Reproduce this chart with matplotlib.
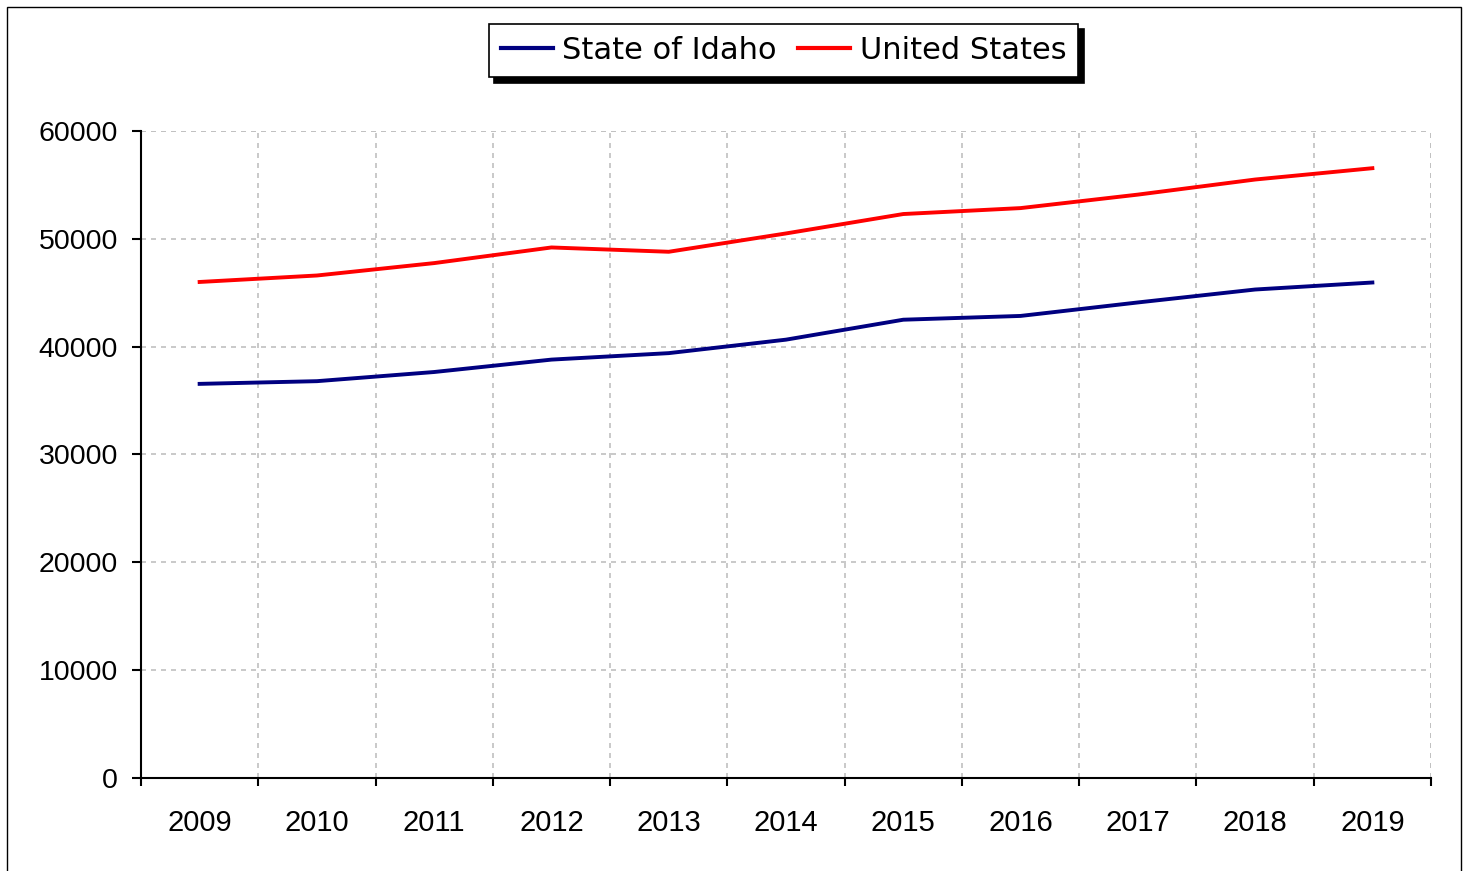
import numpy as np
import matplotlib
matplotlib.use("Agg")
import matplotlib.pyplot as plt
from matplotlib.patches import Rectangle

years = ["2009", "2010", "2011", "2012", "2013", "2014",
         "2015", "2016", "2017", "2018", "2019"]
idaho = [36550, 36800, 37650, 38800, 39400, 40650,
         42500, 42850, 44100, 45300, 45950]
united_states = [46000, 46600, 47750, 49200, 48800, 50500,
                 52300, 52850, 54100, 55500, 56550]

plt.rcParams['font.family'] = ['Liberation Sans', 'DejaVu Sans']

fig = plt.figure(figsize=(14.65, 8.71), dpi=100)
ax = fig.add_axes([141 / 1465, 1 - 778 / 871, (1431 - 141) / 1465, (778 - 131) / 871])

x = np.arange(len(years))
ax.plot(x, idaho, color='#000080', lw=2.8, label='State of Idaho', zorder=3)
ax.plot(x, united_states, color='#FF0000', lw=2.8, label='United States', zorder=3)

ax.set_xlim(-0.5, len(years) - 0.5)
ax.set_ylim(0, 60000)

# category boundaries get the tick marks, labels sit in the middle
ax.set_xticks(np.arange(len(years) + 1) - 0.5)
ax.set_xticklabels([])
ax.set_xticks(x, minor=True)
ax.set_xticklabels(years, minor=True)
ax.tick_params(axis='x', which='major', direction='out', length=6, width=1.5, color='black')
ax.tick_params(axis='x', which='minor', length=0, pad=22, labelsize=21)

ax.set_yticks(np.arange(0, 60001, 10000))
ax.tick_params(axis='y', direction='out', length=6.5, width=1.5, pad=10, labelsize=20.5)

ax.grid(True, which='major', color='#C0C0C0', lw=1.2, linestyle=(0, (3, 3)))
ax.set_axisbelow(True)

for side in ['top', 'right']:
    ax.spines[side].set_visible(False)
for side in ['left', 'bottom']:
    ax.spines[side].set_linewidth(1.5)
    ax.spines[side].set_color('black')
    ax.spines[side].set_zorder(4)

# top and right edges of the plot area are dotted grid lines
ax.axhline(60000, color='#C0C0C0', lw=1.2, linestyle=(0, (3, 3)), zorder=0.5)
ax.axvline(len(years) - 0.5, color='#C0C0C0', lw=1.2, linestyle=(0, (3, 3)), zorder=0.5)

leg = fig.legend(loc='center', bbox_to_anchor=(783.5 / 1465, 1 - 50.5 / 871),
                 ncol=2, frameon=True, fancybox=False, handlelength=1.7,
                 handletextpad=0.3, columnspacing=0.72, borderpad=0.4,
                 prop={'family': 'DejaVu Sans', 'size': 22},
                 shadow={'color': 'black', 'alpha': 1, 'ox': 4, 'oy': -4})
leg.get_frame().set_edgecolor('black')
leg.get_frame().set_linewidth(1.2)
for line in leg.get_lines():
    line.set_linewidth(3)
for t in leg.get_texts():
    t.set_path_effects([])
    t.set_fontweight('normal')

# outer chart border
fig.patches.append(Rectangle((7 / 1465, -0.01), (1461 - 7) / 1465, 1 - 7 / 871 + 0.01,
                             transform=fig.transFigure, fill=False,
                             edgecolor='black', lw=1.0))

fig.savefig('out.png', dpi=100)
